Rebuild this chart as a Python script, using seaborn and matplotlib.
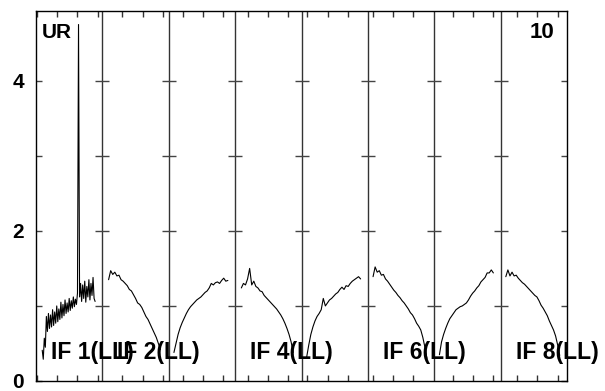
import matplotlib
matplotlib.use("Agg")
import matplotlib.pyplot as plt
import seaborn as sns
import pandas as pd

# amplitude per channel for each IF (LL)
# IF 1 is sampled every channel, the others every 2nd channel
if1_start, if1_step = 6, 1
if1_amp = [0.41, 0.29, 0.57, 0.45, 0.86, 0.66, 0.90, 0.70, 0.88, 0.72,
           0.95, 0.74, 0.92, 0.77, 1.00, 0.79, 0.96, 0.82, 1.05, 0.84,
           1.02, 0.87, 1.08, 0.90, 1.04, 0.92, 1.10, 0.94, 1.07, 0.97,
           1.12, 0.99, 1.09, 1.02, 1.17, 4.75, 1.12, 1.30, 1.06, 1.28,
           1.10, 1.33, 1.05, 1.26, 1.12, 1.35, 1.08, 1.30, 1.14, 1.38,
           1.10, 1.06]

if2_start, if2_step = 6, 2
if2_amp = [1.35, 1.47, 1.42, 1.45, 1.40, 1.41, 1.35, 1.33, 1.30, 1.27,
           1.22, 1.20, 1.15, 1.10, 1.04, 1.02, 0.98, 0.92, 0.86, 0.82,
           0.76, 0.70, 0.64, 0.58, 0.50, 0.42]

if3_start, if3_step = 5, 2
if3_amp = [0.38, 0.50, 0.62, 0.71, 0.78, 0.84, 0.90, 0.95, 0.99, 1.02,
           1.05, 1.08, 1.10, 1.12, 1.15, 1.18, 1.20, 1.24, 1.30, 1.28,
           1.31, 1.32, 1.30, 1.34, 1.37, 1.33, 1.34]

if4_start, if4_step = 6, 2
if4_amp = [1.24, 1.30, 1.28, 1.36, 1.50, 1.28, 1.33, 1.26, 1.24, 1.20,
           1.19, 1.14, 1.11, 1.08, 1.05, 1.02, 0.99, 0.96, 0.92, 0.88,
           0.83, 0.77, 0.70, 0.62, 0.52, 0.38]

if5_start, if5_step = 5, 2
if5_amp = [0.32, 0.48, 0.62, 0.72, 0.80, 0.86, 0.90, 0.95, 1.10, 1.00,
           1.04, 1.08, 1.10, 1.13, 1.16, 1.18, 1.22, 1.25, 1.22, 1.27,
           1.26, 1.30, 1.33, 1.35, 1.37, 1.39, 1.36]

if6_start, if6_step = 5, 2
if6_amp = [1.39, 1.52, 1.45, 1.47, 1.41, 1.42, 1.36, 1.33, 1.29, 1.25,
           1.21, 1.18, 1.14, 1.11, 1.07, 1.04, 1.00, 0.96, 0.91, 0.88,
           0.83, 0.77, 0.73, 0.68, 0.58, 0.45, 0.30]

if7_start, if7_step = 5, 2
if7_amp = [0.35, 0.52, 0.62, 0.70, 0.77, 0.83, 0.87, 0.91, 0.95, 0.97,
           0.99, 1.00, 1.02, 1.04, 1.08, 1.13, 1.17, 1.20, 1.24, 1.27,
           1.32, 1.35, 1.38, 1.44, 1.44, 1.48, 1.44]

if8_start, if8_step = 5, 2
if8_amp = [1.39, 1.48, 1.40, 1.45, 1.40, 1.41, 1.37, 1.34, 1.31, 1.29,
           1.26, 1.23, 1.20, 1.17, 1.14, 1.12, 1.07, 1.01, 0.97, 0.92,
           0.87, 0.80, 0.74, 0.68, 0.60, 0.48, 0.34]

nchan = 64
label_ifs = [1, 2, 4, 6, 8]
# channel tick positions along the whole (concatenated) axis
xtick_pos = [0.7, 20.0, 39.2, 60.1, 82.6, 103.5, 122.7, 142.0, 161.3, 180.6,
             204.7, 224.0, 243.3, 261.6, 281.8, 301.1, 324.7, 344.0, 363.2,
             401.8, 421.1, 440.4, 464.1, 483.4, 503.6]

spectra = [(if1_start, if1_step, if1_amp), (if2_start, if2_step, if2_amp),
           (if3_start, if3_step, if3_amp), (if4_start, if4_step, if4_amp),
           (if5_start, if5_step, if5_amp), (if6_start, if6_step, if6_amp),
           (if7_start, if7_step, if7_amp), (if8_start, if8_step, if8_amp)]

rows = []
for n, (start, step, amp) in enumerate(spectra, start=1):
    for i, a in enumerate(amp):
        rows.append({"IF": n, "x": (n - 1) * nchan + start + i * step, "amp": a})
df = pd.DataFrame(rows)

sns.set_theme(style="white")
plt.rcParams["font.family"] = ["Liberation Sans", "DejaVu Sans"]
plt.rcParams["font.weight"] = "bold"
plt.rcParams["text.color"] = "black"
plt.rcParams["ytick.labelcolor"] = "black"

fig = plt.figure(figsize=(6.05, 3.91), dpi=100)
ax = fig.add_axes([36 / 605, 10 / 391, 531 / 605, 370 / 391])

sns.lineplot(data=df, x="x", y="amp", units="IF", estimator=None,
             color="black", linewidth=0.8, ax=ax, legend=False)

ax.set_xlim(0, 8 * nchan)
ax.set_ylim(0, 4.93)

# IF dividers with their own little y ticks
for k in range(1, 8):
    ax.axvline(k * nchan, color="#333333", lw=1.0)
    ax.plot([k * nchan] * 4, [1, 2, 3, 4], ls="none", marker="_",
            markersize=10, markeredgewidth=1.0, color="#444444")

for n in label_ifs:
    ax.text((n - 1) * nchan + 14.5, 0.29, f"IF {n}(LL)", fontsize=16.5,
            fontweight="bold", va="baseline", ha="left", color="black")

ax.text(5.8, 4.57, "UR", fontsize=15, fontweight="bold", va="baseline", color="black")
ax.text(499.5, 4.57, "10", fontsize=16, fontweight="bold", va="baseline",
        ha="right", color="black")

ax.set_xticks(xtick_pos)
ax.set_xticklabels([])
ax.set_yticks([0, 1, 2, 3, 4])
ax.set_yticklabels(["0", "", "2", "", "4"], fontsize=15, fontweight="bold", color="black")
ax.tick_params(axis="x", direction="in", top=True, bottom=True, length=4.3,
               width=1.0, color="#333333")
ax.tick_params(axis="y", direction="in", left=True, right=True, length=4.3,
               width=1.0, color="#444444", pad=8.6, labelcolor="black")
ax.set_xlabel("")
ax.set_ylabel("")
for s in ax.spines.values():
    s.set_color("black")
    s.set_linewidth(1.0)

fig.savefig("out.png", dpi=100, facecolor="white")
